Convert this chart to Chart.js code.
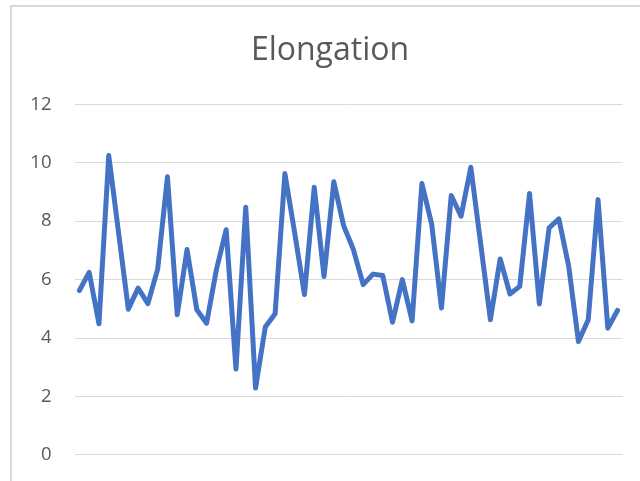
<!DOCTYPE html>
<html>
<head>
<meta charset="utf-8">
<script src="https://cdn.jsdelivr.net/npm/chart.js@4/dist/chart.umd.min.js"></script>
<style>
  html, body { margin: 0; padding: 0; background: #fff; overflow: hidden; }
  #frame { position: absolute; left: 10px; top: 5px; width: 700px; height: 600px;
           border: 2px solid #d9d9d9; box-sizing: border-box; }
  #wrap { position: absolute; left: 0; top: 0; width: 660px; height: 489px; }
</style>
</head>
<body>
<div id="frame"></div>
<div id="wrap"><canvas id="chart" width="660" height="489"></canvas></div>
<script>
// Elongation measurements, one per sample
const samples = Array.from({ length: 56 }, (_, i) => String(i + 1));
const elongation = [
  5.63, 6.25, 4.49, 10.25, 7.62, 4.99, 5.71, 5.18, 6.36, 9.52,
  4.80, 7.03, 4.97, 4.51, 6.34, 7.71, 2.94, 8.48, 2.29, 4.38,
  4.83, 9.63, 7.60, 5.49, 9.16, 6.11, 9.35, 7.85, 7.03, 5.83,
  6.19, 6.14, 4.54, 6.00, 4.59, 9.29, 7.90, 5.03, 8.88, 8.17,
  9.85, 7.24, 4.63, 6.71, 5.51, 5.77, 8.95, 5.17, 7.77, 8.08,
  6.46, 3.88, 4.63, 8.74, 4.34, 4.95
];
const yTicks = [0, 2, 4, 6, 8, 10, 12];

// Centre the title across the whole chart frame, not just the padded area
const wideTitle = {
  id: 'wideTitle',
  afterLayout(chart) {
    const t = chart.titleBlock;
    if (t) { t.left = 0; t.right = chart.width; t.width = chart.width; }
  }
};

new Chart(document.getElementById('chart'), {
  type: 'line',
  data: {
    labels: samples,
    datasets: [{
      data: elongation,
      borderColor: '#4472C4',
      borderWidth: 5,
      borderJoinStyle: 'round',
      borderCapStyle: 'round',
      pointRadius: 0,
      tension: 0,
      fill: false
    }]
  },
  options: {
    responsive: false,
    animation: false,
    layout: { padding: { left: 0, right: 37.5, top: 0, bottom: 8 } },
    plugins: {
      legend: { display: false },
      tooltip: { enabled: false },
      title: {
        display: true,
        text: 'Elongation',
        color: '#595959',
        font: { family: 'Open Sans', size: 32, weight: 'normal', lineHeight: 1.2 },
        padding: { top: 32, bottom: 34 }
      }
    },
    scales: {
      x: {
        offset: true,
        grid: { display: false, drawTicks: false },
        border: { display: false },
        ticks: { display: false }
      },
      y: {
        min: 0,
        max: 12,
        afterFit(scale) { scale.width = 74.5; },
        afterBuildTicks(scale) { scale.ticks = yTicks.map(v => ({ value: v })); },
        grid: { color: '#d9d9d9', lineWidth: 1, drawTicks: false },
        border: { display: false },
        ticks: {
          color: '#595959',
          padding: 23,
          font: { family: 'Open Sans', size: 18.5 }
        }
      }
    }
  },
  plugins: [wideTitle]
});
</script>
</body>
</html>
